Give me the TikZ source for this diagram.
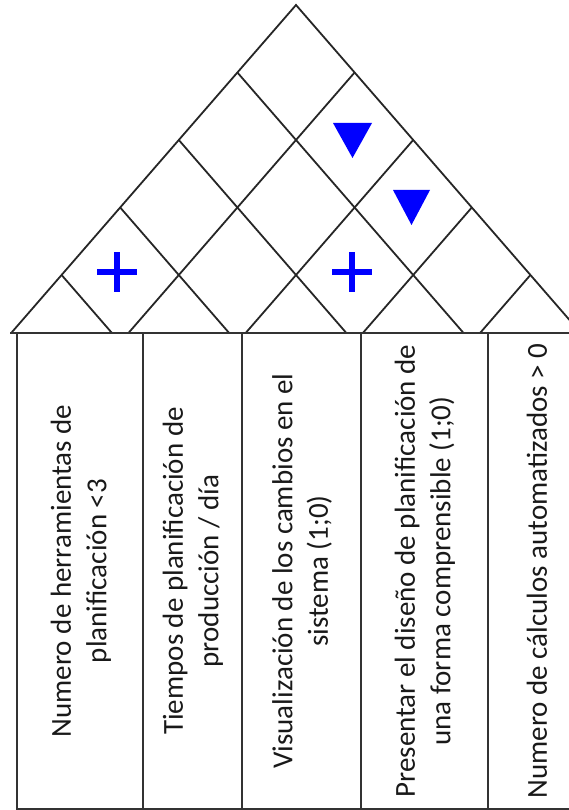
\documentclass[tikz,border=0pt]{standalone}
\usepackage{fontspec}
\setmainfont{Carlito}
\begin{document}
\begin{tikzpicture}[x=1pt,y=-1pt,
  roof/.style={line width=1.8pt, draw=black!85},
  grid/.style={line width=2.2pt, draw=black!80},
  lbl/.style={rotate=90, align=center, font=\fontsize{29}{35.5}\selectfont, text=black!90, inner sep=0pt},
  plusmark/.style={line width=6pt, draw=blue},
  trimark/.style={fill=blue}]
\useasboundingbox (0,0) rectangle (569,810);
\clip (0,0) rectangle (569,810);
% roof
\draw[roof] (11.2,333) -- (296,5) -- (580.8,333);
\foreach \i in {1,...,4} {
  \draw[roof] ({296-58.6*\i}, {5+67.5*\i}) -- ++({0.86815*(328-67.5*\i)}, {328-67.5*\i});
  \draw[roof] ({296+58.6*\i}, {5+67.5*\i}) -- ++({-0.86815*(328-67.5*\i)}, {328-67.5*\i});
}
% table
\draw[grid] (10,333) -- (590,333);
\draw[grid] (17,333) -- (17,809) -- (590,809);
\foreach \x in {143,242,361,488} {
  \draw[grid] (\x,333) -- (\x,809);
}
% labels
\node[lbl] (t1) at (81,571) {Numero de herramientas de\\planificación <3};
\node[lbl] (t2) at (193,571) {Tiempos de planificación de\\producción / día};
\node[lbl] (t3) at (302,571) {Visualización de los cambios en el\\sistema (1;0)};
\node[lbl] (t4) at (425,571) {Presentar el diseño de planificación de\\una forma comprensible (1;0)};
\node[lbl] (t5) at (537,571) {Numero de cálculos automatizados > 0};
% symbols
\draw[plusmark] (97,272) -- (137,272) (117,252) -- (117,292);
\draw[plusmark] (332,272) -- (372,272) (352,252) -- (352,292);
\fill[trimark] (333,123) -- (372,123) -- (352.5,158) -- cycle;
\fill[trimark] (393,190) -- (430,190) -- (411.5,225) -- cycle;
\end{tikzpicture}
\end{document}
